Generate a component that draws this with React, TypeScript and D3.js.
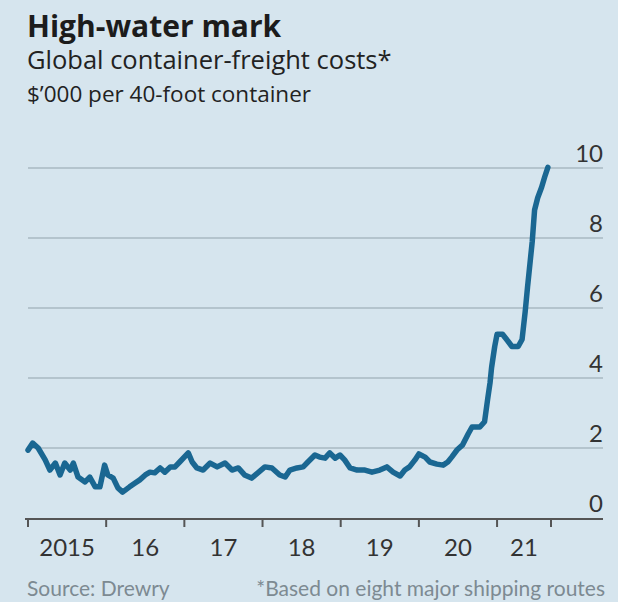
import React from "react";
import * as d3 from "d3";

const dates: number[] = [
  2015.0, 2015.06, 2015.13, 2015.22, 2015.28, 2015.35, 2015.41, 2015.47, 2015.54, 2015.58,
  2015.64, 2015.73, 2015.79, 2015.86, 2015.92, 2015.98, 2016.02, 2016.09, 2016.15, 2016.21,
  2016.3, 2016.37, 2016.43, 2016.5, 2016.56, 2016.62, 2016.69, 2016.75, 2016.82, 2016.88,
  2016.94, 2017.05, 2017.1, 2017.16, 2017.24, 2017.33, 2017.42, 2017.52, 2017.61, 2017.69,
  2017.77, 2017.86, 2017.94, 2018.03, 2018.12, 2018.22, 2018.29, 2018.35, 2018.44, 2018.52,
  2018.58, 2018.67, 2018.73, 2018.8, 2018.86, 2018.93, 2018.99, 2019.05, 2019.12, 2019.21,
  2019.31, 2019.4, 2019.5, 2019.59, 2019.67, 2019.76, 2019.82, 2019.88, 2019.95, 2020.0,
  2020.08, 2020.14, 2020.23, 2020.31, 2020.37, 2020.42, 2020.49, 2020.56, 2020.63, 2020.68,
  2020.78, 2020.84, 2020.88, 2020.91, 2020.93, 2020.97, 2021.0, 2021.07, 2021.14, 2021.19,
  2021.27, 2021.32, 2021.36, 2021.39, 2021.45, 2021.48, 2021.52, 2021.57, 2021.61, 2021.65,
];

const costs: number[] = [
  1.94, 2.14, 2.0, 1.66, 1.37, 1.57, 1.23, 1.57, 1.37, 1.57,
  1.17, 1.03, 1.17, 0.89, 0.89, 1.51, 1.23, 1.14, 0.86, 0.74,
  0.89, 1.0, 1.09, 1.23, 1.31, 1.29, 1.43, 1.31, 1.46, 1.46,
  1.6, 1.86, 1.6, 1.43, 1.37, 1.57, 1.46, 1.57, 1.37, 1.43,
  1.23, 1.14, 1.29, 1.46, 1.43, 1.23, 1.17, 1.37, 1.43, 1.46,
  1.6, 1.8, 1.74, 1.71, 1.86, 1.71, 1.8, 1.66, 1.43, 1.37,
  1.37, 1.31, 1.37, 1.46, 1.31, 1.2, 1.37, 1.46, 1.66, 1.83,
  1.74, 1.6, 1.54, 1.51, 1.6, 1.74, 1.95, 2.09, 2.4, 2.6,
  2.6, 2.75, 3.4, 3.86, 4.3, 4.9, 5.25, 5.25, 5.05, 4.9,
  4.9, 5.1, 5.9, 6.6, 7.9, 8.8, 9.15, 9.45, 9.75, 10.02,
];

const yTicks: number[] = [0, 2, 4, 6, 8, 10];
const xTicks: number[] = [2015, 2016, 2017, 2018, 2019, 2020, 2021, 2021.69];
const yearLabels: string[] = ["2015", "16", "17", "18", "19", "20", "21"];

const title = "High-water mark";
const subtitle = "Global container-freight costs*";
const units = "$\u2019000 per 40-foot container";
const source = "Source: Drewry";
const footnote = "*Based on eight major shipping routes";

const W = 618;
const H = 602;
const FONT = "Lato, 'Open Sans', sans-serif";
const HEAD = "'Open Sans', Lato, sans-serif";

export default function App() {
  const x = d3.scaleLinear().domain([2015, 2021.69]).range([28, 551]);
  const y = d3.scaleLinear().domain([0, 10]).range([518, 168]);
  const pts = dates.map((d, i) => [d, costs[i]] as [number, number]);
  const line = d3
    .line<[number, number]>()
    .x((d) => x(d[0]))
    .y((d) => y(d[1]))
    .curve(d3.curveLinear);

  return (
    <svg
      width={W}
      height={H}
      style={{ position: "absolute", left: 0, top: 0 }}
      fontFamily={FONT}
    >
      <rect x={0} y={0} width={W} height={H} fill="#d6e5ee" />
      <text x={27} y={37} fontSize={30} fontWeight={700} fill="#1c1c1c" fontFamily={HEAD}>
        {title}
      </text>
      <text x={27} y={69} fontSize={25.5} fill="#222" fontFamily={HEAD}>
        {subtitle}
      </text>
      <text x={27} y={102} fontSize={22.5} fill="#222" fontFamily={HEAD}>
        {units}
      </text>

      {yTicks
        .filter((t) => t > 0)
        .map((t) => (
          <line
            key={"g" + t}
            x1={28}
            x2={603}
            y1={y(t)}
            y2={y(t)}
            stroke="#a9b8c2"
            strokeWidth={1.5}
          />
        ))}
      {yTicks.map((t) => (
        <text
          key={"yl" + t}
          x={603}
          y={y(t) - 6}
          textAnchor="end"
          fontSize={24}
          fill="#333"
        >
          {t}
        </text>
      ))}

      <path
        d={line(pts) || ""}
        fill="none"
        stroke="#1a6792"
        strokeWidth={5.5}
        strokeLinejoin="round"
        strokeLinecap="round"
      />

      <line x1={25} x2={603} y1={519} y2={519} stroke="#555" strokeWidth={2} />
      {xTicks.map((t) => (
        <line
          key={"t" + t}
          x1={x(t)}
          x2={x(t)}
          y1={519}
          y2={527}
          stroke="#555"
          strokeWidth={2}
        />
      ))}
      {yearLabels.map((l, i) => (
        <text
          key={"xl" + l}
          x={(x(xTicks[i]) + x(xTicks[i + 1])) / 2}
          y={556}
          textAnchor="middle"
          fontSize={24}
          fill="#333"
        >
          {l}
        </text>
      ))}

      <text x={27} y={596} fontSize={21} fill="#7d8a92">
        {source}
      </text>
      <text x={605} y={596} fontSize={21} fill="#7d8a92" textAnchor="end">
        {footnote}
      </text>
    </svg>
  );
}
